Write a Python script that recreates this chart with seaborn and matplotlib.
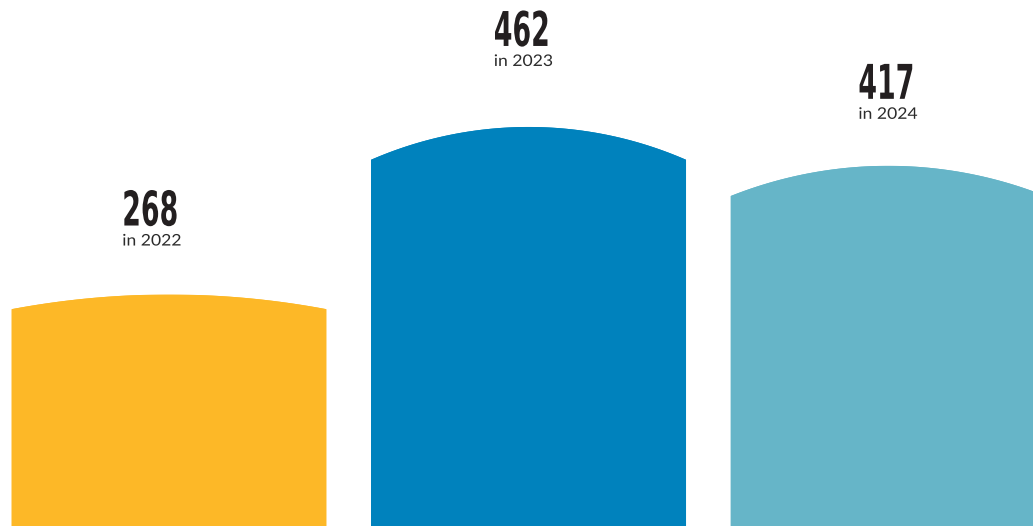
import numpy as np
import pandas as pd
import matplotlib
matplotlib.use("Agg")
import matplotlib.pyplot as plt
import seaborn as sns
from matplotlib.patches import Polygon
from matplotlib.patheffects import AbstractPathEffect
from matplotlib.transforms import Affine2D

# data
years = ["2022", "2023", "2024"]
counts = [268, 462, 417]
bar_colors = ["#FDB827", "#0082BD", "#66B5C8"]

# how far the rounded cap drops at the bar edges (value units)
cap_depth = [17, 38, 35]

# small per-label nudges in pixels (x, y)
label_dx = [-9, 3, 8]
label_dy = [-3, 9, -5]


class HorizontalScale(AbstractPathEffect):
    """Draw text glyphs scaled horizontally around the text origin."""

    def __init__(self, sx):
        super().__init__()
        self.sx = sx

    def draw_path(self, renderer, gc, tpath, affine, rgbFace=None):
        renderer.draw_path(gc, tpath, Affine2D().scale(self.sx, 1.0) + affine, rgbFace)


sns.set_theme(style="white")
plt.rcParams["font.family"] = ["Lato", "DejaVu Sans"]

W_PX, H_PX = 1033, 526
fig = plt.figure(figsize=(W_PX / 100, H_PX / 100), dpi=100)
ax = fig.add_axes([0, 0, 1, 1])

df = pd.DataFrame({"year": years, "count": counts})
sns.barplot(data=df, x="year", y="count", hue="year", palette=bar_colors,
            width=0.876, saturation=1, legend=False, linewidth=0, ax=ax)

XLIM = (-0.470, 2.403)
YLIM = (0, 609)
ax.set_xlim(*XLIM)
ax.set_ylim(*YLIM)
ax.set_axis_off()

px_x = W_PX / (XLIM[1] - XLIM[0])
px_y = H_PX / (YLIM[1] - YLIM[0])

# round off the top of every bar with a circular cap
for patch, depth in zip(list(ax.patches), cap_depth):
    x0, w, top = patch.get_x(), patch.get_width(), patch.get_height()
    c = w / 2 * px_x
    s = depth * px_y
    R = (c ** 2 + s ** 2) / (2 * s)
    u = np.linspace(-c, c, 300)
    drop = (R - np.sqrt(R ** 2 - u ** 2)) / px_y
    xs = x0 + w / 2 + u / px_x
    ys = top - drop
    pts = [(x0, 0)] + list(zip(xs, ys)) + [(x0 + w, 0)]
    shape = Polygon(pts, closed=True, transform=ax.transData,
                    facecolor=patch.get_facecolor(), edgecolor="none")
    ax.add_patch(shape)
    patch.set_clip_path(shape)

# value labels
for i, (yr, val) in enumerate(zip(years, counts)):
    ax.annotate(f"{val}", xy=(i - 0.105, val),
                xytext=(label_dx[i], 72 + label_dy[i]),
                textcoords="offset pixels", ha="left", va="baseline",
                fontsize=34.5, fontweight="bold", color="#231F20",
                family=["DejaVu Sans"],
                path_effects=[HorizontalScale(0.56)])
    ax.annotate(f"in {yr}", xy=(i - 0.105, val),
                xytext=(label_dx[i], 52 + label_dy[i]),
                textcoords="offset pixels", ha="left", va="baseline",
                fontsize=11.5, fontweight="normal", color="#2B2B2B",
                path_effects=[HorizontalScale(1.1)])

fig.savefig("out.png", dpi=100, facecolor="white")
